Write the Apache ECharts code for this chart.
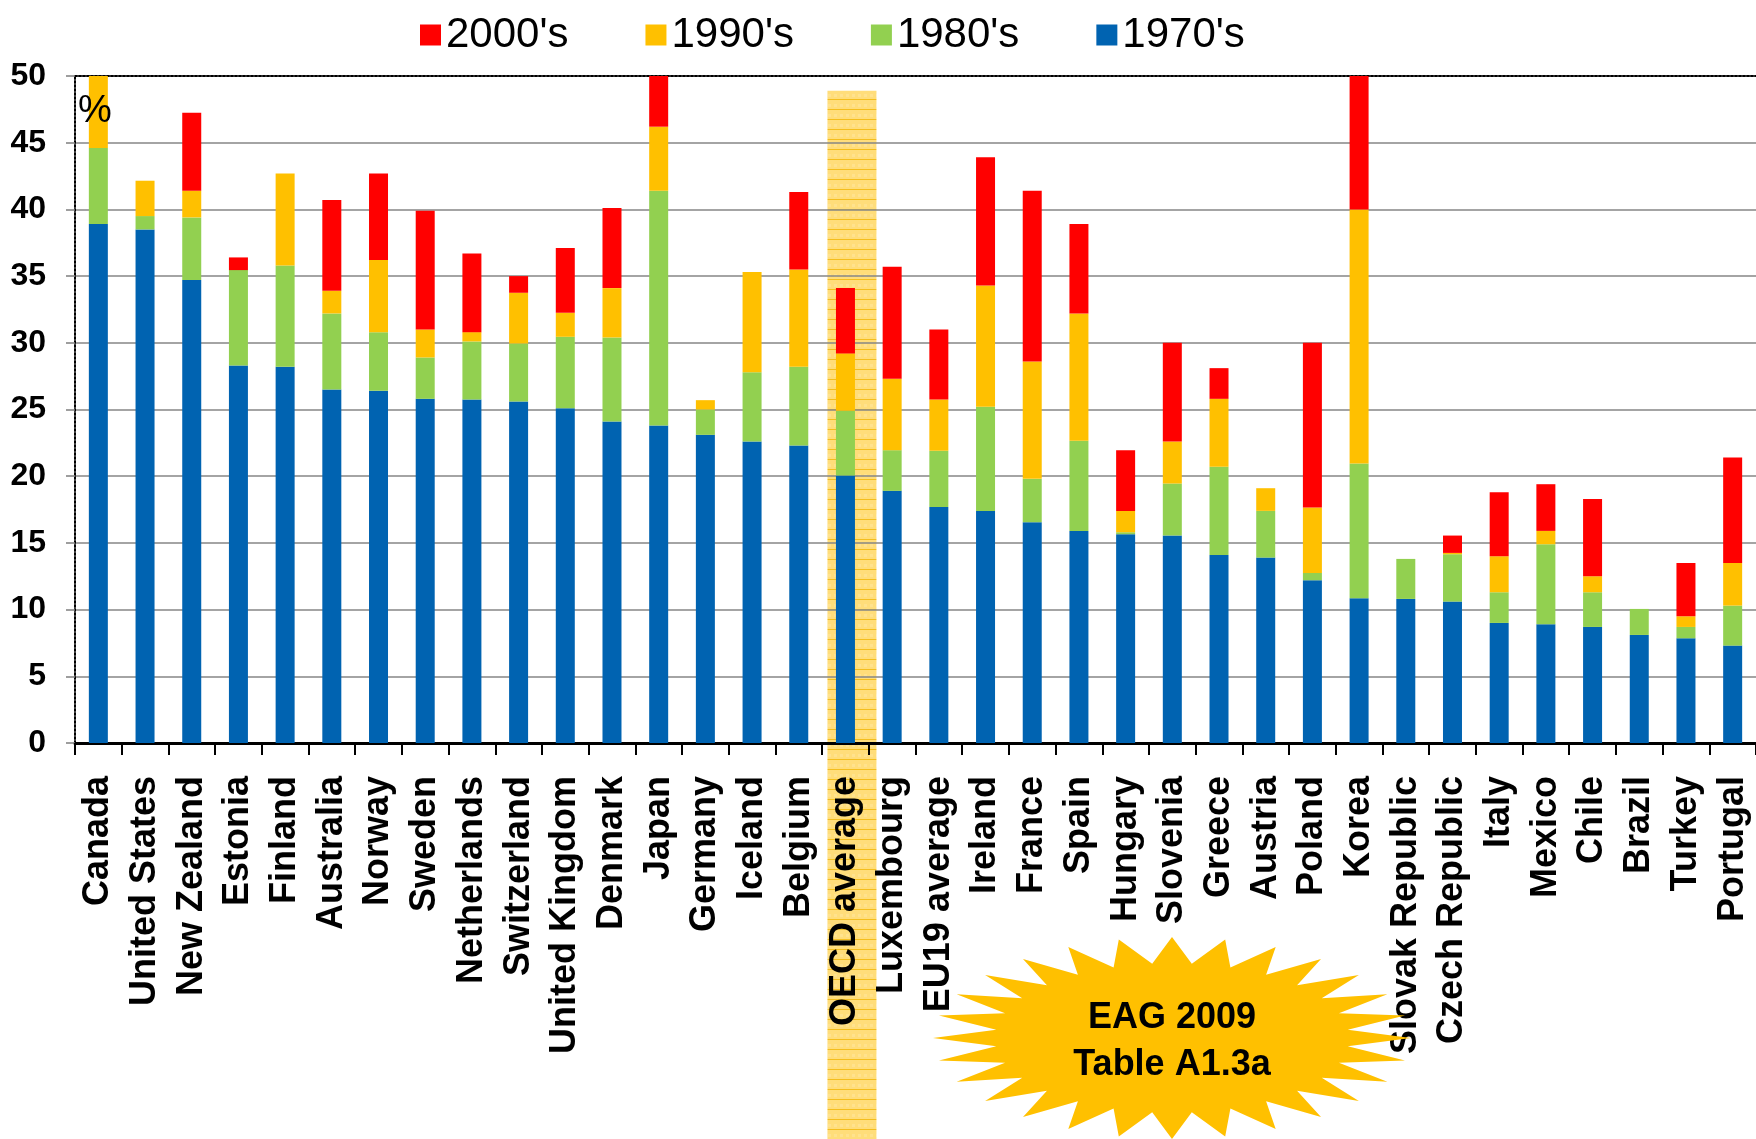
<!DOCTYPE html>
<html>
<head>
<meta charset="utf-8">
<title>Tertiary attainment by decade</title>
<script src="https://cdn.jsdelivr.net/npm/echarts@6/dist/echarts.min.js"></script>
<style>
  html, body { margin: 0; padding: 0; background: #ffffff; }
  #chart { width: 1756px; height: 1139px; }
</style>
</head>
<body>
<div id="chart"></div>
<script>
// Countries in display order
const categories = [
  'Canada', 'United States', 'New Zealand', 'Estonia', 'Finland', 'Australia',
  'Norway', 'Sweden', 'Netherlands', 'Switzerland', 'United Kingdom', 'Denmark',
  'Japan', 'Germany', 'Iceland', 'Belgium', 'OECD average', 'Luxembourg',
  'EU19 average', 'Ireland', 'France', 'Spain', 'Hungary', 'Slovenia', 'Greece',
  'Austria', 'Poland', 'Korea', 'Slovak Republic', 'Czech Republic', 'Italy',
  'Mexico', 'Chile', 'Brazil', 'Turkey', 'Portugal'
];

// Stacked segments, in percentage points
const share1970s = [
  38.9, 38.5, 34.7, 28.3, 28.2, 26.5, 26.4, 25.8, 25.75, 25.6, 25.1, 24.1,
  23.8, 23.1, 22.6, 22.3, 20.05, 18.9, 17.7, 17.4, 16.55, 15.9, 15.65, 15.55,
  14.1, 13.9, 12.2, 10.85, 10.8, 10.6, 9.0, 8.9, 8.7, 8.1, 7.85, 7.3
];
const share1980s = [
  5.7, 1.0, 4.7, 7.15, 7.6, 5.7, 4.4, 3.1, 4.35, 4.35, 5.35, 6.3,
  17.6, 1.9, 5.2, 5.9, 4.85, 3.05, 4.2, 7.8, 3.25, 6.75, 0.15, 3.9,
  6.6, 3.5, 0.55, 10.1, 3.0, 3.55, 2.3, 6.0, 2.6, 1.95, 0.85, 3.0
];
const share1990s = [
  5.4, 2.65, 2.0, 0, 6.9, 1.7, 5.4, 2.1, 0.7, 3.8, 1.8, 3.7,
  4.8, 0.7, 7.5, 7.3, 4.3, 5.35, 3.85, 9.1, 8.8, 9.55, 1.6, 3.15,
  5.1, 1.7, 4.9, 19.05, 0, 0.1, 2.7, 1.0, 1.2, 0, 0.8, 3.2
];
const share2000s = [
  0, 0, 5.85, 0.95, 0, 6.8, 6.5, 8.9, 5.9, 1.25, 4.85, 6.0,
  3.8, 0, 0, 5.8, 4.9, 8.4, 5.25, 9.6, 12.8, 6.7, 4.55, 7.4,
  2.3, 0, 12.35, 10.0, 0, 1.3, 4.8, 3.5, 5.8, 0, 4.0, 7.9
];

const seriesNames = ["1970's", "1980's", "1990's", "2000's"];
const legendOrder = ["2000's", "1990's", "1980's", "1970's"];
const highlighted = 'OECD average';
const sourceNote = 'EAG 2009\nTable A1.3a';

const FONT = '"Liberation Sans", Arial, Helvetica, sans-serif';
const colors = { "1970's": '#0063B1', "1980's": '#92D050', "1990's": '#FFC000', "2000's": '#FF0000' };

const chart = echarts.init(document.getElementById('chart'), null, { renderer: 'canvas' });

function bar(name, values) {
  return {
    name: name,
    type: 'bar',
    stack: 'total',
    data: values,
    barWidth: 19,
    itemStyle: { color: colors[name] },
    emphasis: { disabled: true },
    animation: false
  };
}

chart.setOption({
  animation: false,
  backgroundColor: '#ffffff',
  textStyle: { fontFamily: FONT },
  legend: {
    data: legendOrder,
    left: 415,
    top: 9,
    itemWidth: 21,
    itemHeight: 21,
    itemGap: 77,
    icon: 'rect',
    selectedMode: false,
    textStyle: { fontSize: 42, color: '#000', fontFamily: FONT }
  },
  grid: { left: 75, right: 0, top: 76, bottom: 396, containLabel: false, outerBoundsMode: 'none' },
  xAxis: [
    {
      type: 'category',
      data: categories,
      position: 'bottom',
      axisLine: { show: true, onZero: true, lineStyle: { color: '#000', width: 3 } },
      axisTick: { show: true, alignWithLabel: false, length: 12, lineStyle: { color: '#000', width: 2 } },
      axisLabel: {
        interval: 0,
        rotate: 90,
        margin: 33,
        color: '#000',
        fontSize: 36,
        fontWeight: 'bold',
        fontFamily: FONT
      },
      splitLine: { show: false }
    },
    {
      type: 'category',
      data: categories,
      position: 'top',
      axisLine: { show: true, onZero: false, lineStyle: { color: '#000', width: 2, type: 'dotted' } },
      axisTick: { show: false },
      axisLabel: { show: false },
      splitLine: { show: false }
    }
  ],
  yAxis: {
    type: 'value',
    min: 0,
    max: 50,
    interval: 5,
    axisLine: { show: true, lineStyle: { color: '#000', width: 2, type: 'dotted' } },
    axisTick: { show: true, length: 9, lineStyle: { color: '#7f7f7f', width: 1.5 } },
    axisLabel: {
      margin: 29,
      color: '#000',
      fontSize: 32,
      fontWeight: 'bold',
      fontFamily: FONT
    },
    splitLine: { show: true, lineStyle: { color: '#868686', width: 1.5 } }
  },
  series: [
    bar(seriesNames[0], share1970s),
    bar(seriesNames[1], share1980s),
    bar(seriesNames[2], share1990s),
    bar(seriesNames[3], share2000s)
  ]
});

// Hatched highlight strip behind the OECD average column
function stripPattern() {
  const c = document.createElement('canvas');
  c.width = 6; c.height = 10;
  const g = c.getContext('2d');
  g.fillStyle = 'rgba(255,200,40,0.62)';
  g.fillRect(0, 0, 6, 10);
  g.fillStyle = 'rgba(255,255,255,0.15)';
  g.fillRect(0, 4, 3, 3);
  g.fillStyle = 'rgba(240,180,0,0.75)';
  g.fillRect(0, 9, 6, 1);
  return c;
}

// Star-shaped badge outline
function burstPoints(cx, cy, rx, ry, spikes, inner) {
  const pts = [];
  for (let i = 0; i < spikes * 2; i++) {
    const a = -Math.PI / 2 + i * Math.PI / spikes;
    const k = i % 2 === 0 ? 1 : inner;
    pts.push([cx + rx * k * Math.cos(a), cy + ry * k * Math.sin(a)]);
  }
  return pts;
}

const stripX = chart.convertToPixel({ xAxisIndex: 0 }, highlighted);
const stripTop = chart.convertToPixel({ yAxisIndex: 0 }, 48.9);
const H = chart.getHeight();

chart.setOption({
  graphic: [
    {
      type: 'rect',
      z: -1,
      silent: true,
      shape: { x: stripX - 18, y: stripTop, width: 49, height: H - stripTop },
      style: { fill: { image: stripPattern(), repeat: 'repeat' } }
    },
    {
      type: 'text',
      z: 10,
      silent: true,
      x: 78,
      y: 93,
      style: { text: '%', font: '38px ' + FONT, fill: '#000' }
    },
    {
      type: 'polygon',
      z: 10,
      silent: true,
      shape: { points: burstPoints(1172, 1038, 239, 101, 28, 0.74) },
      style: { fill: '#FFC000' }
    },
    {
      type: 'text',
      z: 11,
      silent: true,
      x: 1172,
      y: 1042,
      style: {
        text: sourceNote,
        font: 'bold 36px ' + FONT,
        lineHeight: 47,
        fill: '#000',
        align: 'center',
        verticalAlign: 'middle'
      }
    }
  ]
});
</script>
</body>
</html>
